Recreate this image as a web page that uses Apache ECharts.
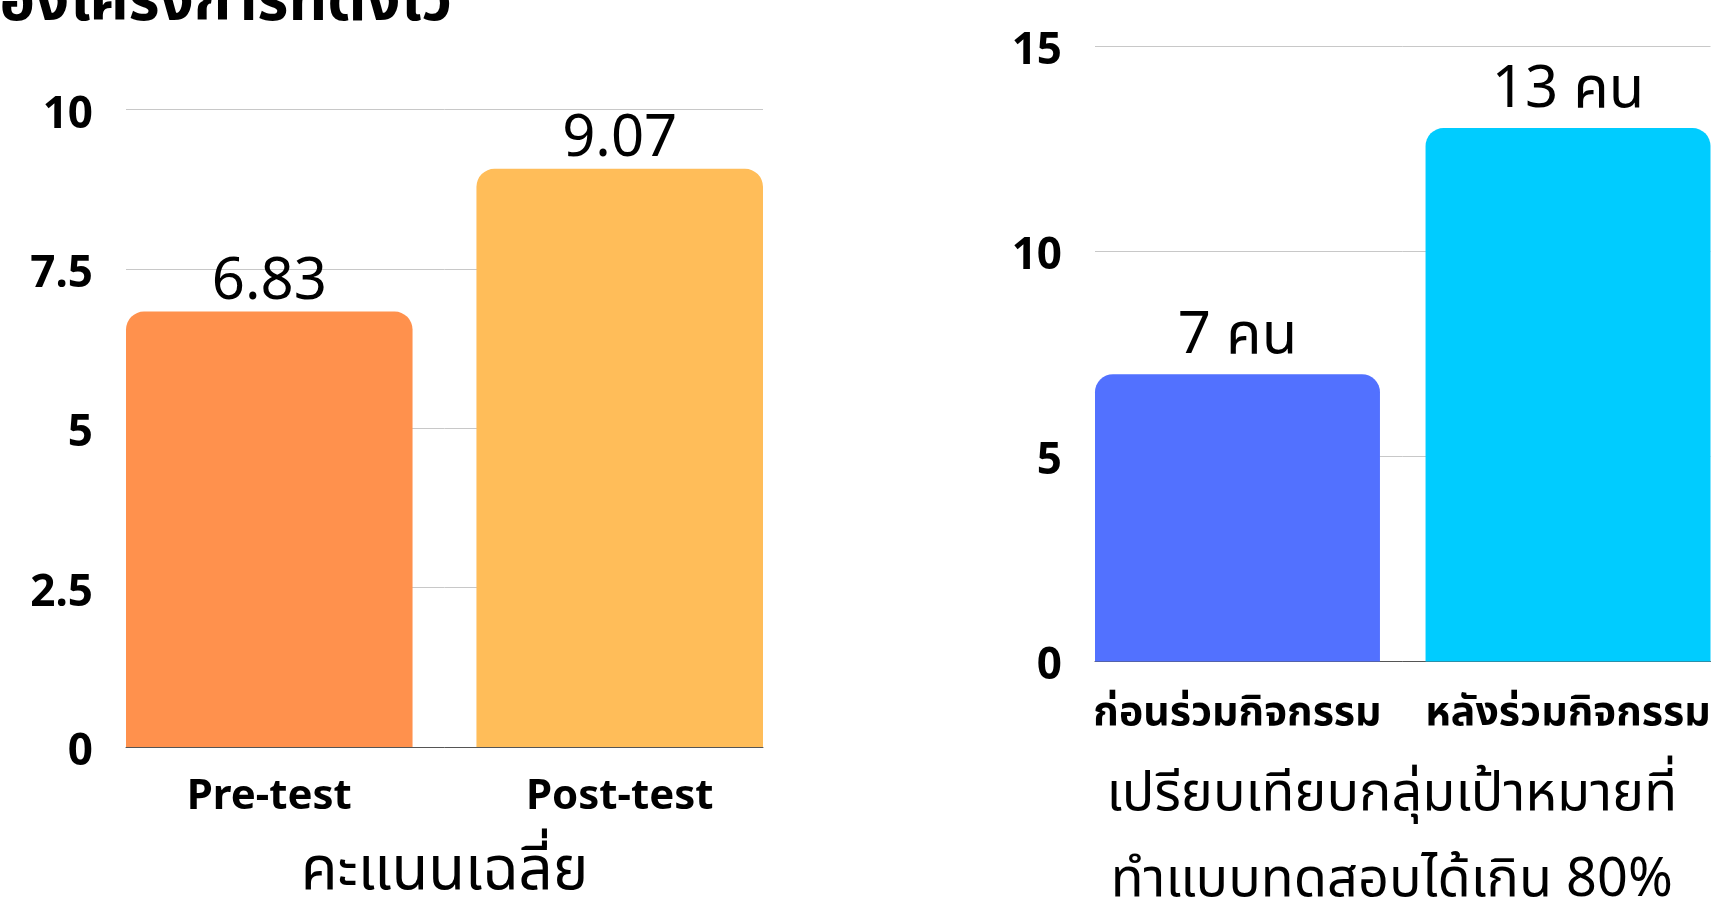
<!DOCTYPE html>
<html>
<head>
<meta charset="utf-8">
<script src="https://cdn.jsdelivr.net/npm/echarts@6/dist/echarts.min.js"></script>
<style>
  html, body { margin: 0; padding: 0; background: #ffffff; }
  #chart { width: 1717px; height: 899px; }
</style>
</head>
<body>
<div id="chart"></div>
<script>
// ---- data ----
const titleText = 'บรรลุวัตถุประสงค์ของโครงการที่ตั้งไว้';
const leftCategories = ['Pre-test', 'Post-test'];
const leftValues = [6.83, 9.07];
const leftAxisName = 'คะแนนเฉลี่ย';
const leftTickMin = 0, leftTickMax = 10, leftTickStep = 2.5;
const rightCategories = ['ก่อนร่วมกิจกรรม', 'หลังร่วมกิจกรรม'];
const rightValues = [7, 13];
const rightUnit = 'คน';
const rightAxisName = 'เปรียบเทียบกลุ่มเป้าหมายที่\nทำแบบทดสอบได้เกิน 80%';
const rightTickMin = 0, rightTickMax = 15, rightTickStep = 5;
const leftColors = ['#FF914D', '#FFBD59'];
const rightColors = ['#5271FF', '#00CCFF'];

const FONT = "'Noto Sans', 'Noto Sans Thai', 'Noto Sans Thai UI', sans-serif";

function buildSeries(cats, vals, colors, axisIdx, prefix, valueFmt, barGap, catLabelDist, catFontSize, valueDist) {
  const out = [];
  cats.forEach((c, i) => {
    out.push({
      type: 'bar', xAxisIndex: axisIdx, yAxisIndex: axisIdx,
      stack: prefix + i, data: [0], barGap: barGap, barCategoryGap: '0%',
      itemStyle: { color: 'rgba(0,0,0,0)' }, silent: true,
      label: {
        show: true, position: 'bottom', distance: catLabelDist, verticalAlign: 'middle',
        formatter: () => c, color: '#000', fontFamily: FONT, fontWeight: 'bold', fontSize: catFontSize
      }
    });
    out.push({
      type: 'bar', xAxisIndex: axisIdx, yAxisIndex: axisIdx,
      stack: prefix + i, data: [vals[i]], barGap: barGap, barCategoryGap: '0%',
      itemStyle: { color: colors[i], borderRadius: [18, 18, 0, 0] },
      label: {
        show: true, position: 'top', distance: valueDist,
        formatter: valueFmt, color: '#000', fontFamily: FONT, fontSize: 58
      }
    });
  });
  return out;
}

function yAxis(idx, min, max, step) {
  return {
    type: 'value', gridIndex: idx, min: min, max: max, interval: step,
    axisLine: { show: false }, axisTick: { show: false },
    axisLabel: {
      margin: 33,
      formatter: v => '{a|' + v + '}',
      rich: { a: { color: '#000', fontFamily: FONT, fontWeight: 'bold', fontSize: 44, padding: [11, 0, 0, 0] } }
    },
    splitLine: { lineStyle: { color: '#c8c8c8', width: 1 } }
  };
}

function xAxis(idx, name, nameGap, nameSize, lineHeight, padding) {
  return {
    type: 'category', gridIndex: idx, data: [''],
    axisLine: { lineStyle: { color: '#555', width: 1 } },
    axisTick: { show: false }, axisLabel: { show: false },
    name: name, nameLocation: 'middle', nameGap: nameGap,
    nameTextStyle: { color: '#000', fontFamily: FONT, fontSize: nameSize, lineHeight: lineHeight, verticalAlign: 'middle', padding: padding }
  };
}

const chart = echarts.init(document.getElementById('chart'), null, { renderer: 'canvas' });
chart.setOption({
  backgroundColor: '#ffffff',
  animation: false,
  graphic: [{
    type: 'text', x: 452, y: 3,
    style: { text: titleText, x: 0, y: 0, textAlign: 'right', textVerticalAlign: 'middle', fill: '#000', font: "bold 60px " + FONT }
  }],
  grid: [
    { left: 126, right: 954, top: 109.5, bottom: 152, containLabel: false, outerBoundsMode: 'none' },
    { left: 1095, right: 6.5, top: 46, bottom: 237.6, containLabel: false, outerBoundsMode: 'none' }
  ],
  xAxis: [
    xAxis(0, leftAxisName, 125, 60, 70, [0, 0, 0, 0]),
    xAxis(1, rightAxisName, 176, 54, 86, [0, 22, 0, 0])
  ],
  yAxis: [
    yAxis(0, leftTickMin, leftTickMax, leftTickStep),
    yAxis(1, rightTickMin, rightTickMax, rightTickStep)
  ],
  series: [
    ...buildSeries(leftCategories, leftValues, leftColors, 0, 'L', p => String(p.value), '22.3%', 50, 42, 0),
    ...buildSeries(rightCategories, rightValues, rightColors, 1, 'R', p => p.value + ' ' + rightUnit, '16%', 52, 41, 9)
  ]
});
</script>
</body>
</html>
